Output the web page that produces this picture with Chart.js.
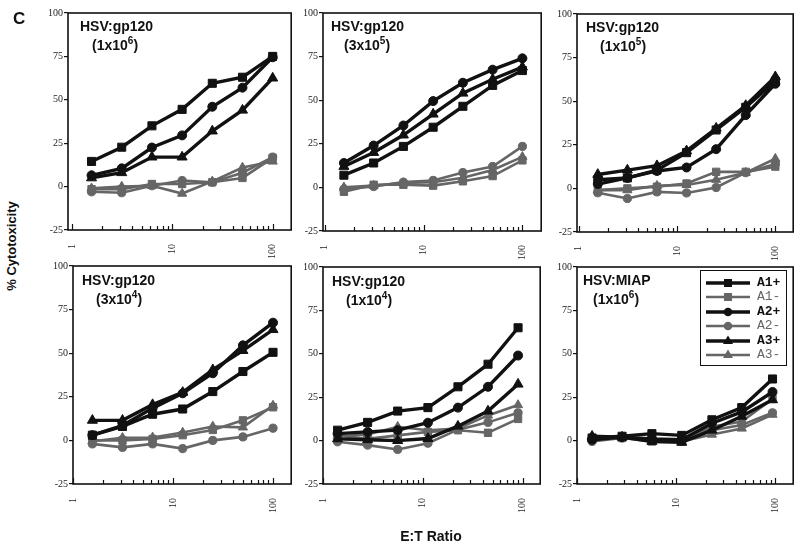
<!DOCTYPE html>
<html><head><meta charset="utf-8">
<script src="https://cdn.jsdelivr.net/npm/chart.js@4.4.1/dist/chart.umd.min.js"></script>
<style>
html,body{margin:0;padding:0;background:#fff;}
#wrap{position:relative;width:800px;height:547px;overflow:hidden;font-family:'Liberation Sans',Arial,sans-serif;color:#111;}
canvas{position:absolute;}
.title{position:absolute;font-weight:bold;font-size:14px;line-height:19px;white-space:nowrap;}
.title .l2{display:block;}
.title sup{font-size:10px;vertical-align:0;position:relative;top:-6px;}
.lab{position:absolute;font-weight:bold;white-space:nowrap;}
#legend{position:absolute;left:700px;top:270px;width:85px;height:94px;border:1.5px solid #111;background:#fff;}
#legend .row{position:absolute;left:5px;height:14px;display:flex;align-items:center;}
#legend .row span{margin-left:7px;font-family:'Liberation Mono','DejaVu Sans Mono',monospace;font-size:13px;line-height:14px;}
</style></head>
<body><div id="wrap"></div>
<script>
// ---------- data ----------
const xTickValues = [1,2,3,4,5,6,7,8,9,10,20,30,40,50,60,70,80,90,100];
const xTickLabels = [1,10,100];
const yTickStep = 25;
const seriesLabels = ['A1+','A1-','A2+','A2-','A3+','A3-'];
const panelTitles = ['HSV:gp120','HSV:gp120','HSV:gp120','HSV:gp120','HSV:gp120','HSV:MIAP'];
const panelDoseBase = ['(1x10','(3x10','(1x10','(3x10','(1x10','(1x10'];
const panelDoseExp = ['6','5','5','4','4','6'];

const etA = [1.5625, 3.125, 6.25, 12.5, 25, 50, 100];
const etB = [1.4, 2.8, 5.6, 11.25, 22.5, 45, 90];
const etC = [1.42, 2.85, 5.7, 11.4, 23, 46, 94];

// panel 1: HSV:gp120 (1x10^6)
const p1A1p = [14.5, 22.7, 35, 44.5, 59.5, 63, 75];
const p1A1m = [-1.5, -1.5, 1.5, 1.5, 2.5, 5, 16.5];
const p1A2p = [6.5, 10.5, 22.5, 29.5, 46, 57, 74.5];
const p1A2m = [-3, -3.5, 0.5, 3.5, 2.5, 8, 17];
const p1A3p = [5, 8, 17, 17, 32, 44, 62.5];
const p1A3m = [-1, 0, 0.5, -4, 3, 11, 14.5];
// panel 2: HSV:gp120 (3x10^5)
const p2A1p = [7, 14, 23.5, 34.5, 46.5, 58.5, 67];
const p2A1m = [-2.5, 1.5, 1.5, 1, 3.5, 6.5, 15.5];
const p2A2p = [14, 24, 35.5, 49.5, 60, 67.5, 74];
const p2A2m = [-1, 0.5, 3, 4, 8.5, 12, 23.5];
const p2A3p = [12, 20, 30, 42, 54, 62, 69];
const p2A3m = [0, 1, 2.5, 3, 5.5, 10, 17.5];
// panel 3: HSV:gp120 (1x10^5)
const p3A1p = [5, 6, 10.5, 20.5, 33.5, 46.5, 61.5];
const p3A1m = [-1, 0, 1, 2.8, 9.5, 9.5, 12.5];
const p3A2p = [2.5, 6, 10, 12, 22.5, 42, 60];
const p3A2m = [-2.5, -5.8, -2, -2.6, 0.5, 9, 14];
const p3A3p = [8, 10.5, 13, 21.5, 34.5, 47.5, 64];
const p3A3m = [-1, -1, 1.5, 2, 5, 9, 17];
// panel 4: HSV:gp120 (3x10^4)
const p4A1p = [3, 8, 15, 18, 28, 39.5, 50.5];
const p4A1m = [0, 0, 0.8, 3, 6, 11.5, 19];
const p4A2p = [3, 8.5, 18.5, 27, 38.5, 54.5, 67.5];
const p4A2m = [-2, -4, -2, -4.7, 0, 2, 7];
const p4A3p = [11.5, 11.5, 20.5, 27.5, 40.5, 51.5, 63.5];
const p4A3m = [-0.5, 1.5, 1.7, 4.5, 8, 7.5, 20];
// panel 5: HSV:gp120 (1x10^4)
const p5A1p = [6, 10.5, 17, 19, 31, 44, 65];
const p5A1m = [3, 1, 3, 5, 6, 4.5, 12.5];
const p5A2p = [4, 5, 6, 10.3, 19, 31, 49];
const p5A2m = [-0.7, -2.6, -5.1, -1.5, 6.3, 10.5, 16];
const p5A3p = [1, 0.5, 0, 1.2, 8.3, 17, 32.5];
const p5A3m = [2.5, 3.5, 8, 6, 7, 14.5, 20.5];
// panel 6: HSV:MIAP (1x10^6)
const p6A1p = [1.5, 2.5, 4, 3, 12, 19, 35.5];
const p6A1m = [1, 1.5, -0.5, -0.5, 8, 11, 24];
const p6A2p = [0.5, 2, 1, 0.5, 10, 16.5, 28];
const p6A2m = [-0.5, 1.5, 0.5, -0.5, 6, 9, 16];
const p6A3p = [2.5, 2, -0.5, -1, 6, 14, 23.5];
const p6A3m = [1.5, 1.5, 0.5, -0.5, 3.5, 7, 15];

// ---------- layout ----------
const panels = [
  {rect:[68,13,292,230], xmin:0.91, xmax:153, xs:etA, series:[p1A1p,p1A1m,p1A2p,p1A2m,p1A3p,p1A3m], tpos:[80,16.5,12]},
  {rect:[323,13,542,231], xmin:0.96, xmax:155, xs:etA, series:[p2A1p,p2A1m,p2A2p,p2A2m,p2A3p,p2A3m], tpos:[331,16.5,13]},
  {rect:[577,14,794,232], xmin:0.96, xmax:152, xs:etA, series:[p3A1p,p3A1m,p3A2p,p3A2m,p3A3p,p3A3m], tpos:[586,17.5,14]},
  {rect:[73,266,292,484], xmin:1, xmax:152, xs:etA, series:[p4A1p,p4A1m,p4A2p,p4A2m,p4A3p,p4A3m], tpos:[82,271,14]},
  {rect:[323,267,541,484], xmin:1, xmax:150, xs:etB, series:[p5A1p,p5A1m,p5A2p,p5A2m,p5A3p,p5A3m], tpos:[332,272,14]},
  {rect:[577,267,794,484], xmin:1, xmax:152, xs:etC, series:[p6A1p,p6A1m,p6A2p,p6A2m,p6A3p,p6A3m], tpos:[583,271,10]}
];
const styles = [
  {color:'#111', width:3.4, pt:'rect',     r:5.7, order:1},
  {color:'#666', width:2.6, pt:'rect',     r:5.2, order:2},
  {color:'#111', width:3.4, pt:'circle',   r:4.5, order:1},
  {color:'#666', width:2.6, pt:'circle',   r:4.1, order:2},
  {color:'#111', width:3.4, pt:'triangle', r:5.8, order:1},
  {color:'#666', width:2.6, pt:'triangle', r:5.3, order:2}
];

const wrap = document.getElementById('wrap');
const PADL = 42, PADT = 8, PADR = 6, PADB = 42;

const boxPlugin = {
  id:'box',
  afterDraw(chart){
    const {ctx, chartArea:a, scales:{x}} = chart;
    ctx.save();
    ctx.strokeStyle = '#111';
    ctx.lineWidth = 1.2;
    xTickValues.forEach(v => {
      const px = Math.round(x.getPixelForValue(v)) + 0.5;
      if (px < a.left || px > a.right) return;
      const len = xTickLabels.includes(v) ? 6 : 4;
      ctx.beginPath(); ctx.moveTo(px, a.bottom); ctx.lineTo(px, a.bottom - len); ctx.stroke();
    });
    ctx.lineWidth = 1.6;
    ctx.strokeRect(a.left, a.top, a.right - a.left, a.bottom - a.top);
    ctx.restore();
  }
};

Chart.defaults.font.family = "'Liberation Serif','Times New Roman',serif";
Chart.defaults.color = '#222';

panels.forEach((p, i) => {
  const [L,T,R,B] = p.rect;
  const cv = document.createElement('canvas');
  const w = (R-L) + PADL + PADR, h = (B-T) + PADT + PADB;
  cv.width = w; cv.height = h;
  cv.style.left = (L-PADL) + 'px'; cv.style.top = (T-PADT) + 'px';
  cv.style.width = w + 'px'; cv.style.height = h + 'px';
  wrap.appendChild(cv);

  const datasets = p.series.map((vals, k) => ({
    label: seriesLabels[k],
    data: vals.map((v, j) => ({x: p.xs[j], y: v})),
    borderColor: styles[k].color,
    backgroundColor: styles[k].color,
    borderWidth: styles[k].width,
    pointStyle: styles[k].pt,
    pointRadius: styles[k].r,
    pointBorderWidth: 1,
    pointBorderColor: styles[k].color,
    pointBackgroundColor: styles[k].color,
    tension: 0,
    order: styles[k].order
  }));

  new Chart(cv, {
    type: 'line',
    data: {datasets},
    options: {
      responsive: false, animation: false, devicePixelRatio: 1,
      layout: {padding: {top: PADT, right: PADR, left: 0, bottom: 0}},
      plugins: {legend: {display: false}, tooltip: {enabled: false}},
      scales: {
        x: {
          type: 'logarithmic', min: p.xmin, max: p.xmax,
          afterBuildTicks: s => { s.ticks = xTickValues.map(v => ({value: v})); },
          afterFit: s => { s.height = PADB; },
          grid: {display: false},
          border: {display: false},
          ticks: {
            autoSkip: false, minRotation: 90, maxRotation: 90, padding: 6,
            font: {size: 10}, color: '#222',
            callback: v => xTickLabels.includes(v) ? String(v) : ''
          }
        },
        y: {
          type: 'linear', min: -25, max: 100,
          afterFit: s => { s.width = PADL; },
          grid: {drawOnChartArea: false, drawTicks: true, tickLength: 4, color: '#111', lineWidth: 1.2},
          border: {display: false},
          ticks: {stepSize: yTickStep, padding: 1, font: {size: 10}, color: '#222'}
        }
      }
    },
    plugins: [boxPlugin]
  });

  const t = document.createElement('div');
  t.className = 'title';
  t.style.left = p.tpos[0] + 'px'; t.style.top = p.tpos[1] + 'px';
  t.innerHTML = panelTitles[i] + '<span class="l2" style="padding-left:' + p.tpos[2] + 'px">' +
    panelDoseBase[i] + '<sup>' + panelDoseExp[i] + '</sup>)</span>';
  wrap.appendChild(t);
});

// legend (panel 6)
const lg = document.createElement('div');
lg.id = 'legend';
seriesLabels.forEach((lab, k) => {
  const st = styles[k];
  const row = document.createElement('div');
  row.className = 'row';
  row.style.top = (4.5 + k*14.5) + 'px';
  let mk;
  if (st.pt === 'rect') mk = '<rect x="18" y="3" width="8" height="8" fill="'+st.color+'"/>';
  else if (st.pt === 'circle') mk = '<circle cx="22" cy="7" r="4.3" fill="'+st.color+'"/>';
  else mk = '<polygon points="22,1.5 27,10 17,10" fill="'+st.color+'"/>';
  row.innerHTML = '<svg width="44" height="14"><line x1="0" y1="7" x2="44" y2="7" stroke="'+st.color+'" stroke-width="'+st.width+'"/>'+mk+'</svg>' +
    '<span style="color:'+(st.color==='#111'?'#111':'#666')+';font-weight:'+(st.color==='#111'?'bold':'normal')+'">'+lab+'</span>';
  lg.appendChild(row);
});
wrap.appendChild(lg);

// axis titles and panel letter
function addLabel(text, css){
  const d = document.createElement('div');
  d.className = 'lab'; d.textContent = text;
  Object.assign(d.style, css);
  wrap.appendChild(d);
}
addLabel('C', {left:'13px', top:'9px', fontSize:'17px', lineHeight:'20px'});
addLabel('E:T Ratio', {left:'431px', top:'528px', fontSize:'14px', lineHeight:'16px', transform:'translateX(-50%)'});
addLabel('% Cytotoxicity', {left:'11px', top:'246px', fontSize:'13px', lineHeight:'15px', transform:'translate(-50%,-50%) rotate(-90deg)'});
</script>
</body></html>
